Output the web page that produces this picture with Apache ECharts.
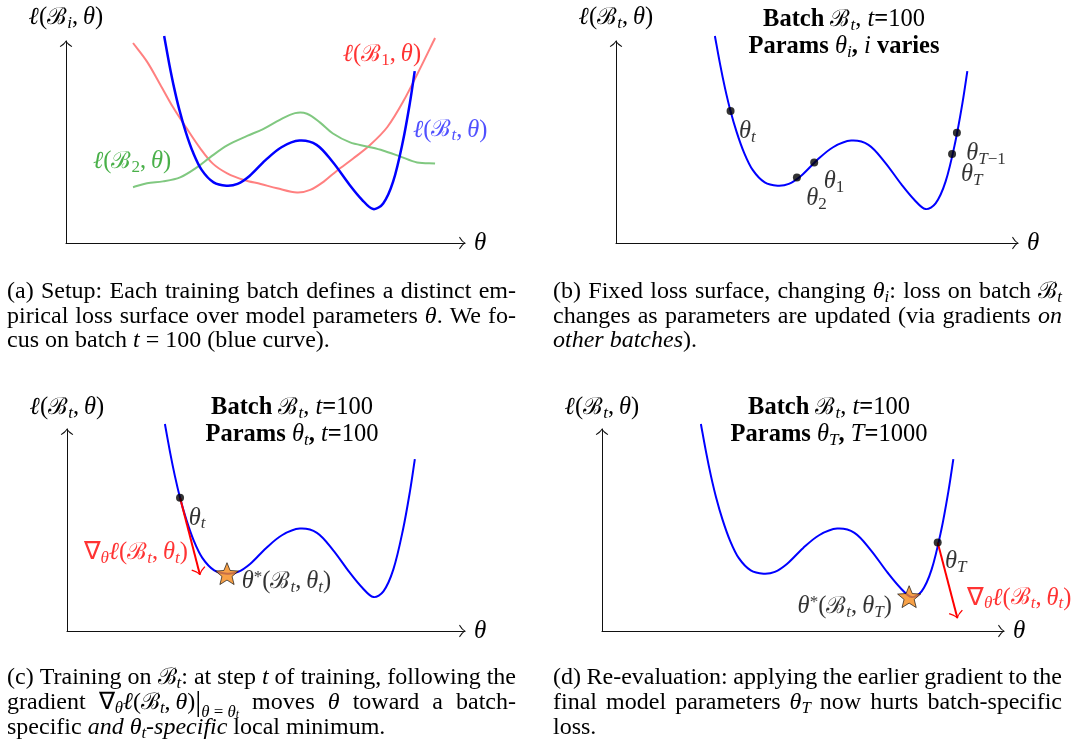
<!DOCTYPE html>
<html><head><meta charset="utf-8">
<script src="https://cdn.jsdelivr.net/npm/echarts@6/dist/echarts.min.js"></script>
<style>html,body{margin:0;padding:0;background:#fff}#c{width:1086px;height:746px}</style>
</head><body><div id="c"></div>
<script>
// ---------------- data (θ on 0..10, loss on 0..10, arbitrary units) ----------------
// ℓ(B_t, θ): the batch-t loss surface (blue curve, all panels)
const lossBt = [[2.46,10.25],[2.59,8.84],[2.71,7.68],[2.84,6.60],[3.00,5.50],[3.18,4.50],[3.40,3.62],[3.70,3.00],[4.02,2.84],[4.30,2.93],[4.60,3.32],[5.00,4.10],[5.40,4.74],[5.85,5.07],[6.28,4.86],[6.68,4.02],[7.10,2.90],[7.42,2.14],[7.70,1.68],[7.95,1.96],[8.20,3.05],[8.44,5.00],[8.62,6.95],[8.74,8.51]];
// ℓ(B_1, θ) (red)
const lossB1 = [[1.68,9.90],[2.03,8.98],[2.36,7.85],[2.68,6.73],[3.03,5.66],[3.36,4.70],[3.68,3.93],[4.04,3.45],[4.46,3.12],[4.88,2.92],[5.29,2.71],[5.79,2.50],[6.12,2.63],[6.46,3.04],[6.79,3.58],[7.19,4.17],[7.62,4.85],[8.05,5.73],[8.45,7.00],[8.87,8.62],[9.25,10.15]];
// ℓ(B_2, θ) (green)
const lossB2 = [[1.68,2.76],[2.03,2.96],[2.43,3.05],[2.86,3.25],[3.28,3.74],[3.61,4.24],[4.04,4.83],[4.54,5.30],[4.94,5.64],[5.36,6.10],[5.74,6.43],[6.04,6.40],[6.37,5.96],[6.69,5.42],[7.12,4.98],[7.54,4.78],[7.94,4.58],[8.37,4.29],[8.80,3.99],[9.25,3.94]];
// panel (b): parameter iterates on ℓ(B_t, θ): θ_t, θ_2, θ_1, θ_T, θ_{T-1}
const iterates = [[2.85,6.53],[4.50,3.24],[4.93,3.98],[8.36,4.40],[8.48,5.46]];
// panel (c): θ_t, gradient step end, local minimum θ*(B_t, θ_t)
const thetaC = [2.84,6.60], stepC = [3.34,2.79], starC = [4.02,2.84];
// panel (d): θ_T, same gradient step applied, local minimum θ*(B_t, θ_T)
const thetaD = [8.35,4.38], stepD = [8.84,0.64], starD = [7.64,1.70];

// ---------------- styling helpers ----------------
const SERIF = "'Liberation Serif', 'Times New Roman', serif";
const CAL = "'DejaVu Serif', serif";
const ARROW = 'path://M0,0 L0.02,0 L0,0.02 Z M24,24 L23.98,24 L24,23.98 Z M12,11 Q15,16.5 23.5,21.5 L22.3,23 Q15,18.8 12,13.7 Q9,18.8 1.7,23 L0.5,21.5 Q9,16.5 12,11 Z';
const STAR = 'path://M50,0 L62.93,32.2 L97.55,34.55 L70.92,56.8 L79.39,90.45 L50,72 L20.61,90.45 L29.08,56.8 L2.45,34.55 L37.07,32.2 Z';

function R(size, L, color) {
  const sub = +(size * 0.7).toFixed(1);
  const mk = (o) => {
    o.lineHeight = L;
    o.fontFamily = o.fontFamily || SERIF;
    o.fontStyle = o.fontStyle || 'normal';
    o.fontWeight = o.fontWeight || 'normal';
    o.font = o.fontStyle + ' ' + o.fontWeight + ' ' + o.fontSize + 'px ' + o.fontFamily;
    o.color = color; o.fill = color;
    return o;
  };
  const lo = (d) => L - 2 * d;
  return {
    n: mk({fontSize: size}),
    b: mk({fontSize: size, fontWeight: 'bold'}),
    m: mk({fontSize: size, fontStyle: 'italic'}),
    i: mk({fontSize: size, fontStyle: 'italic'}),
    c: mk({fontSize: +(size * 0.95).toFixed(1), fontFamily: CAL}),
    s: mk({fontSize: sub, fontStyle: 'italic', verticalAlign: 'bottom', height: lo(size * 0.24)}),
    sn: mk({fontSize: sub, verticalAlign: 'bottom', height: lo(size * 0.24)}),
    sup: mk({fontSize: sub, verticalAlign: 'top', height: lo(size * 0.2)}),
    sl: mk({fontSize: sub, fontStyle: 'italic', verticalAlign: 'bottom', height: lo(size * 0.42)}),
    ss: mk({fontSize: +(size * 0.5).toFixed(1), fontStyle: 'italic', verticalAlign: 'bottom', height: lo(size * 0.5)}),
    bar: mk({fontSize: +(size * 1.25).toFixed(1)})
  };
}

const ctx = document.createElement('canvas').getContext('2d');
function measure(st, txt) { ctx.font = st.font; return ctx.measureText(txt).width; }
function buildLine(markup, justify, size, L, W) {
  const rich = R(size, L, '#000');
  const re = /\{([a-zA-Z0-9_]+)\|([^}]*)\}/g;
  const toks = []; let last = 0, m;
  while ((m = re.exec(markup))) {
    if (m.index > last) toks.push(['n', markup.slice(last, m.index)]);
    toks.push([m[1], m[2]]); last = re.lastIndex;
  }
  if (last < markup.length) toks.push(['n', markup.slice(last)]);
  const parts = [];
  toks.forEach(([st, txt]) => {
    txt.split(' ').forEach((s, k) => { if (k > 0) parts.push(null); if (s) parts.push([st, s]); });
  });
  let w = 0, ns = 0;
  parts.forEach(p => { if (p) w += measure(rich[p[0]], p[1]); else ns++; });
  const nat = measure(rich.n, ' ');
  const sp = (justify && ns) ? (W - w) / ns : nat;
  rich.sp = Object.assign({}, rich.n, {width: sp});
  const text = parts.map(p => p ? '{' + p[0] + '|' + p[1] + '}' : '{sp| }').join('');
  return {text, rich};
}

// smooth path through pixel points (chord-parameterised cubic Hermite -> Bézier)
function splinePath(P) {
  const n = P.length, d = [], m = [];
  for (let i = 0; i < n - 1; i++) d.push(Math.hypot(P[i + 1][0] - P[i][0], P[i + 1][1] - P[i][1]) || 1e-6);
  for (let i = 0; i < n; i++) {
    if (i === 0) m.push([(P[1][0] - P[0][0]) / d[0], (P[1][1] - P[0][1]) / d[0]]);
    else if (i === n - 1) m.push([(P[i][0] - P[i - 1][0]) / d[i - 1], (P[i][1] - P[i - 1][1]) / d[i - 1]]);
    else {
      const s = d[i - 1] + d[i];
      m.push([(P[i + 1][0] - P[i - 1][0]) / s, (P[i + 1][1] - P[i - 1][1]) / s]);
    }
  }
  let path = 'M' + P[0][0].toFixed(2) + ',' + P[0][1].toFixed(2);
  for (let i = 0; i < n - 1; i++) {
    const c1 = [P[i][0] + m[i][0] * d[i] / 3, P[i][1] + m[i][1] * d[i] / 3];
    const c2 = [P[i + 1][0] - m[i + 1][0] * d[i] / 3, P[i + 1][1] - m[i + 1][1] * d[i] / 3];
    path += 'C' + c1[0].toFixed(2) + ',' + c1[1].toFixed(2) + ' ' + c2[0].toFixed(2) + ',' + c2[1].toFixed(2) + ' ' + P[i + 1][0].toFixed(2) + ',' + P[i + 1][1].toFixed(2);
  }
  return path;
}

// ---------------- text content ----------------
const ell = (sub, subStyle) => '{m|ℓ}{n|(}{c|ℬ}{' + subStyle + '|' + sub + '}{n|,\u2009}{m|θ}{n|)}';
const gradLabel = '{n|∇}{s|θ}{m|ℓ}{n|(}{c|ℬ}{s|t}{n|,\u2009}{m|θ}{s|t}{n|)}';
const titleBatch = '{b|Batch }{c|ℬ}{s|t}{n|, }{m|t}{b|=}{n|100}';
const titles = [
  [titleBatch, '{b|Params }{m|θ}{s|i}{b|, }{m|i}{b| varies}'],
  [titleBatch, '{b|Params }{m|θ}{s|t}{b|, }{m|t}{b|=}{n|100}'],
  [titleBatch, '{b|Params }{m|θ}{s|T}{b|, }{m|T}{b|=}{n|1000}']
];
const capA = [
  ['(a) Setup: Each training batch defines a distinct em-', true],
  ['pirical loss surface over model parameters {m|θ}. We fo-', true],
  ['cus on batch {m|t}{n|\u00a0=\u00a0}100 (blue curve).', false]
];
const capB = [
  ['(b) Fixed loss surface, changing {m|θ}{s|i}: loss on batch {c|ℬ}{s|t}', true],
  ['changes as parameters are updated (via gradients {i|on}', true],
  ['{i|other batches}).', false]
];
const capC = [
  ['(c) Training on {c|ℬ}{s|t}: at step {m|t} of training, following the', true],
  ['gradient {n|∇}{s|θ}{m|ℓ}{n|(}{c|ℬ}{s|t}{n|,\u2009}{m|θ}{n|)}{bar||}{sl|θ\u2009=\u2009θ}{ss|t} moves {m|θ} toward a batch-', true],
  ['specific {i|and} {m|θ}{s|t}{i|-specific} local minimum.', false]
];
const capD = [
  ['(d) Re-evaluation: applying the earlier gradient to the', true],
  ['final model parameters {m|θ}{s|T} now hurts batch-specific', true],
  ['loss.', false]
];

// ---------------- layout ----------------
const SZ = 24.5, LH = 28;          // in-plot math labels
const TS = 24.5, TL = 27;          // panel titles
const CS = 24, CL = 25, CW = 509;  // captions
const grids = [
  {left: 66, top: 41, width: 399, height: 202},
  {left: 616, top: 41, width: 402, height: 202},
  {left: 67, top: 429, width: 398, height: 202},
  {left: 602, top: 429, width: 402, height: 202}
];
const yNames = [ell('i', 's'), ell('t', 's'), ell('t', 's'), ell('t', 's')];
const yGaps = [9, 9, 7, 7];

function axisLine() {
  return {show: true, onZero: false, lineStyle: {color: '#111', width: 1}, symbol: ['none', ARROW], symbolSize: [13, 13]};
}
const xAxis = grids.map((g, i) => ({
  type: 'value', gridIndex: i, min: 0, max: 10, axisLine: axisLine(), axisTick: {show: false},
  axisLabel: {show: false}, splitLine: {show: false},
  name: 'θ', nameLocation: 'end', nameGap: 9,
  nameTextStyle: {fontFamily: SERIF, fontStyle: 'italic', fontSize: 25, color: '#000'}
}));
const yAxis = grids.map((g, i) => ({
  type: 'value', gridIndex: i, min: 0, max: 10, axisLine: axisLine(), axisTick: {show: false},
  axisLabel: {show: false}, splitLine: {show: false},
  name: yNames[i], nameLocation: 'end', nameGap: yGaps[i],
  nameTextStyle: {rich: R(SZ, LH, '#000')}
}));

// loss curve: the points of the array are mapped through the axes (api.coord) and joined smoothly
function curve(gi, data, color, width, z) {
  return {type: 'custom', coordinateSystem: 'cartesian2d', xAxisIndex: gi, yAxisIndex: gi,
    data: data, clip: false, silent: true, z: z || 2,
    renderItem: (params, api) => {
      if (params.dataIndex !== 0) return null;
      const P = data.map(p => api.coord(p));
      return {type: 'path', shape: {pathData: splinePath(P)},
        style: {stroke: color, lineWidth: width, fill: null, lineJoin: 'round', lineCap: 'butt'}};
    }};
}
function labels(gi, items) {
  return {type: 'scatter', xAxisIndex: gi, yAxisIndex: gi, symbolSize: 0, clip: false, silent: true, z: 20,
    itemStyle: {color: 'rgba(0,0,0,0)'},
    label: {show: true, formatter: p => p.name},
    data: items.map(it => ({name: it.t, value: it.at,
      label: {show: true, position: it.side || 'right', distance: 0, color: it.color || '#000',
        rich: R(SZ, LH, it.color || '#000')}}))};
}
function dots(gi, data) {
  return {type: 'scatter', xAxisIndex: gi, yAxisIndex: gi, data, symbol: 'circle', symbolSize: 8, clip: false,
    silent: true, z: 12, itemStyle: {color: '#000'}};
}
function star(gi, p) {
  return {type: 'scatter', xAxisIndex: gi, yAxisIndex: gi, data: [p], symbol: STAR, symbolSize: 23,
    symbolKeepAspect: true, clip: false, silent: true, z: 13,
    itemStyle: {color: '#f58a1a', borderColor: '#000', borderWidth: 0.8}};
}
function arrow(gi, from, to) {
  return {type: 'lines', coordinateSystem: 'cartesian2d', xAxisIndex: gi, yAxisIndex: gi, silent: true, z: 11,
    symbol: ['none', ARROW], symbolSize: 15, lineStyle: {color: '#ff0000', width: 2, opacity: 1},
    data: [{coords: [from, to]}]};
}

const series = [
  // (a)
  curve(0, lossB1, '#ff8080', 2),
  curve(0, lossB2, '#80c880', 2),
  curve(0, lossBt, '#0000ff', 2.5, 3),
  labels(0, [
    {t: ell('1', 'sn'), at: [6.94, 9.31], color: '#ff0000'},
    {t: ell('t', 's'), at: [8.70, 5.59], color: '#2424ff'},
    {t: ell('2', 'sn'), at: [0.68, 4.01], color: '#1c9c1c'}
  ]),
  // (b)
  curve(1, lossBt, '#0000ff', 2),
  dots(1, iterates),
  labels(1, [
    {t: '{m|θ}{s|t}', at: [3.06, 5.50]},
    {t: '{m|θ}{sn|2}', at: [4.73, 2.18]},
    {t: '{m|θ}{sn|1}', at: [5.17, 3.02]},
    {t: '{m|θ}{s|T}{sn|−1}', at: [8.71, 4.41]},
    {t: '{m|θ}{s|T}', at: [8.58, 3.37]}
  ]),
  // (c)
  curve(2, lossBt, '#0000ff', 2),
  arrow(2, thetaC, stepC),
  dots(2, [thetaC]),
  star(2, starC),
  labels(2, [
    {t: '{m|θ}{s|t}', at: [3.06, 5.59]},
    {t: '{m|θ}{sup|*}{n|(}{c|ℬ}{s|t}{n|,\u2009}{m|θ}{s|t}{n|)}', at: [4.39, 2.43]},
    {t: gradLabel, at: [3.04, 3.86], side: 'left', color: '#ff0000'}
  ]),
  // (d)
  curve(3, lossBt, '#0000ff', 2),
  arrow(3, thetaD, stepD),
  dots(3, [thetaD]),
  star(3, starD),
  labels(3, [
    {t: '{m|θ}{s|T}', at: [8.53, 3.42]},
    {t: '{m|θ}{sup|*}{n|(}{c|ℬ}{s|t}{n|,\u2009}{m|θ}{s|T}{n|)}', at: [7.21, 1.19], side: 'left'},
    {t: gradLabel, at: [9.08, 1.63], color: '#ff0000'}
  ])
];

// ---------------- graphic texts: titles and captions ----------------
const graphic = [];
function textEl(x, y, text, rich, align) {
  graphic.push({type: 'text', x, y, silent: true, z: 30,
    style: {text, rich, fill: '#000', font: rich.n.font, align: align, verticalAlign: 'middle',
      textAlign: align, textVerticalAlign: 'middle'}});
}
const titlePos = [[844, 20, 47], [292, 408, 435], [829, 408, 435]];
titles.forEach((t, k) => {
  const [cx, y1, y2] = titlePos[k];
  textEl(cx, y1, t[0], R(TS, TL, '#000'), 'center');
  textEl(cx, y2, t[1], R(TS, TL, '#000'), 'center');
});
function caption(lines, x0, ys) {
  lines.forEach((ln, k) => {
    const b = buildLine(ln[0], ln[1], CS, CL, CW);
    textEl(x0, ys[k], b.text, b.rich, 'left');
  });
}
caption(capA, 7, [292, 317, 341]);
caption(capB, 553, [292, 317, 341]);
caption(capC, 7, [678, 703, 728]);
caption(capD, 553, [678, 703, 728]);

const chart = echarts.init(document.getElementById('c'), null, {renderer: 'canvas'});
chart.setOption({animation: false, backgroundColor: '#fff', grid: grids, xAxis, yAxis, series, graphic});
</script></body></html>
